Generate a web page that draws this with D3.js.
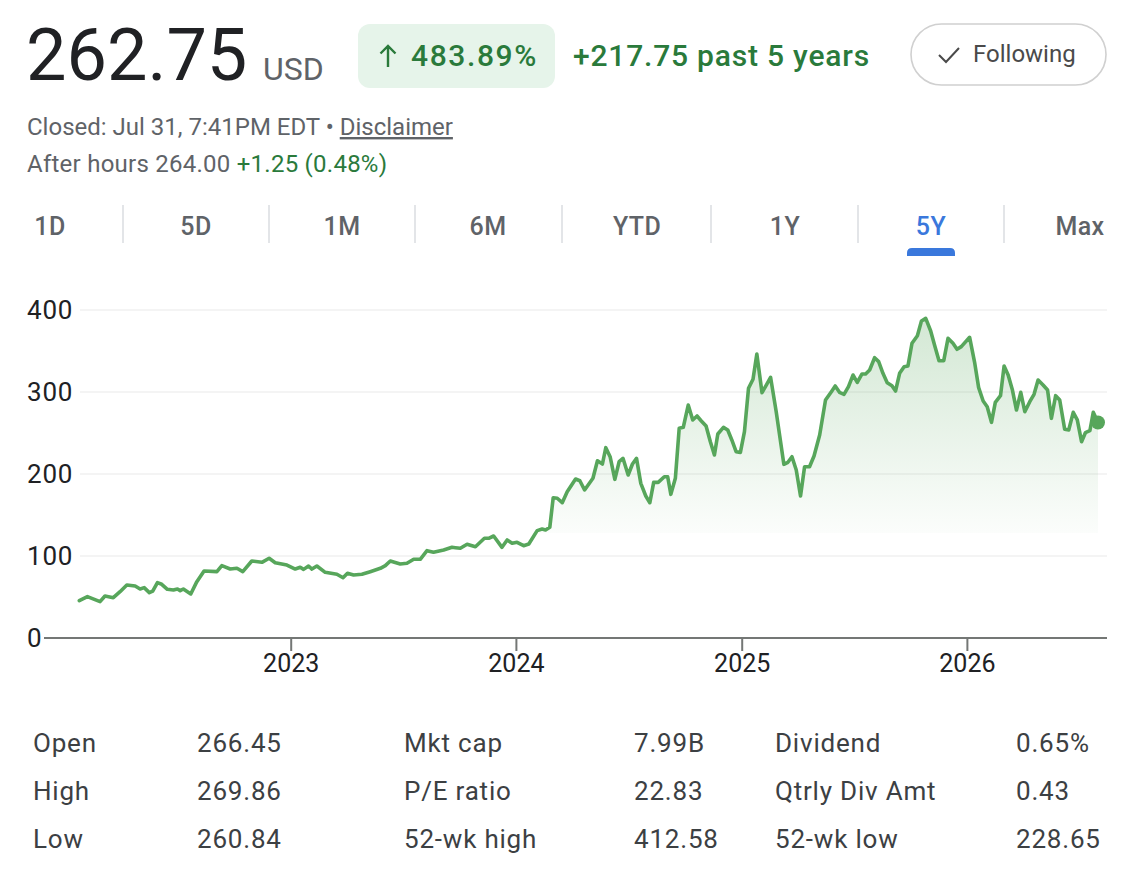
<!DOCTYPE html>
<html>
<head>
<meta charset="utf-8">
<script src="https://cdn.jsdelivr.net/npm/d3@7"></script>
<style>
  html,body{margin:0;padding:0;background:#fff;}
  svg{display:block;font-family:Roboto,"Noto Sans",Arial,sans-serif;}
</style>
</head>
<body>
<svg id="chart" width="1130" height="874"></svg>
<script>
// ---------- data ----------
const years = [
 2022.059,2022.095,2022.151,2022.173,2022.210,2022.240,2022.270,2022.307,2022.329,2022.347,2022.370,2022.385,2022.406,2022.425,2022.450,2022.477,2022.495,2022.507,2022.521,2022.554,2022.581,2022.613,2022.670,2022.692,2022.729,2022.759,2022.785,2022.825,2022.870,2022.902,2022.929,2022.981,
 2023.018,2023.040,2023.055,2023.077,2023.092,2023.114,2023.151,2023.203,2023.230,2023.250,2023.277,2023.314,2023.351,2023.396,2023.418,2023.440,2023.484,2023.514,2023.544,2023.573,2023.603,2023.632,2023.677,2023.714,2023.729,2023.751,2023.781,2023.818,2023.858,2023.877,2023.899,2023.936,2023.959,2023.981,
 2024.003,2024.032,2024.055,2024.092,2024.114,2024.129,2024.148,2024.163,2024.181,2024.203,2024.225,2024.262,2024.281,2024.302,2024.339,2024.359,2024.381,2024.396,2024.415,2024.436,2024.455,2024.472,2024.495,2024.514,2024.532,2024.551,2024.573,2024.591,2024.608,2024.628,2024.655,2024.670,2024.684,2024.704,2024.721,2024.739,2024.761,2024.781,2024.800,2024.818,2024.840,2024.859,2024.877,2024.892,2024.917,2024.936,2024.954,2024.973,2024.992,
 2025.010,2025.028,2025.048,2025.065,2025.088,2025.107,2025.126,2025.151,2025.185,2025.203,2025.221,2025.240,2025.259,2025.277,2025.299,2025.319,2025.344,2025.370,2025.396,2025.413,2025.432,2025.452,2025.472,2025.492,2025.511,2025.532,2025.548,2025.566,2025.588,2025.606,2025.625,2025.644,2025.665,2025.681,2025.699,2025.719,2025.736,2025.754,2025.778,2025.796,2025.815,2025.837,2025.855,2025.874,2025.895,2025.914,2025.936,2025.954,2025.973,
 2026.010,2026.032,2026.050,2026.070,2026.088,2026.107,2026.124,2026.147,2026.163,2026.181,2026.200,2026.218,2026.237,2026.255,2026.277,2026.296,2026.314,2026.336,2026.356,2026.373,2026.392,2026.410,2026.432,2026.450,2026.470,2026.488,2026.507,2026.524,2026.544,2026.559,2026.580
];
const prices = [
 45.5,50.4,44.3,51.2,49.2,56.5,64.6,63.4,59.8,61.4,55.3,57.3,67.5,65.5,59.4,58.5,59.8,57.7,59.8,53.7,68.7,81.7,80.9,88.2,84.1,85.0,80.9,93.9,92.3,97.2,91.8,89.0,
 84.1,86.2,83.7,87.8,84.1,87.8,80.1,77.7,73.5,78.9,76.8,77.7,80.9,85.0,88.2,93.9,90.2,91.1,96.0,96.0,106.5,104.5,107.3,110.6,110.1,109.4,114.3,111.3,121.6,121.6,124.4,110.6,119.5,115.5,
 116.7,112.6,114.6,130.9,132.9,131.7,135.0,171.1,170.4,165.0,178.4,193.9,191.8,180.5,194.8,216.2,212.2,232.1,221.1,193.5,215.0,219.1,198.8,212.2,219.1,188.6,173.2,165.0,189.8,189.8,196.7,196.7,175.2,194.8,255.7,256.9,284.1,265.9,270.7,265.0,258.5,239.4,223.2,248.8,256.9,253.7,241.5,227.2,226.4,
 251.6,304.5,315.5,346.3,299.2,308.5,317.9,276.0,211.8,214.3,221.1,204.9,173.2,208.9,208.9,222.0,247.6,290.2,300.4,307.3,299.6,297.2,306.5,320.7,311.8,322.0,322.0,326.8,341.8,337.0,322.8,311.4,307.7,301.2,322.8,330.9,331.7,359.4,368.7,386.6,389.8,374.4,356.5,338.2,338.2,365.4,359.4,352.1,355.3,
 366.7,336.2,305.3,289.0,282.1,263.0,287.4,295.5,331.7,320.7,302.4,278.0,299.6,276.0,288.2,297.2,314.6,308.5,302.4,267.9,295.5,290.2,254.5,253.7,275.2,265.9,239.4,250.4,252.8,275.2,262.75
];
const yTicks = [0,100,200,300,400];
const xTickYears = [2023,2024,2025,2026];
const tabs = ["1D","5D","1M","6M","YTD","1Y","5Y","Max"];
const activeTab = "5Y";
const statLabels1 = ["Open","High","Low"];
const statValues1 = ["266.45","269.86","260.84"];
const statLabels2 = ["Mkt cap","P/E ratio","52-wk high"];
const statValues2 = ["7.99B","22.83","412.58"];
const statLabels3 = ["Dividend","Qtrly Div Amt","52-wk low"];
const statValues3 = ["0.65%","0.43","228.65"];

// ---------- helpers ----------
function yearToDate(y){
  const Y = Math.floor(y), f = y - Y;
  const a = new Date(Y,0,1), b = new Date(Y+1,0,1);
  return new Date(a.getTime() + f*(b-a));
}
const data = years.map((y,i)=>({date:yearToDate(y), value:prices[i]}));

const GREEN_TXT = "#2a7a3b";
const LINE = "#57a65b";
const GRAY = "#5f6368";
const DARK = "#202124";

const svg = d3.select("#chart");

// ---------- header ----------
svg.append("text").attr("x",26).attr("y",80).attr("font-size",72).attr("fill",DARK).text("262.75");
svg.append("text").attr("x",263).attr("y",80).attr("font-size",32).attr("fill",GRAY).text("USD");

svg.append("rect").attr("x",358).attr("y",24).attr("width",197).attr("height",64).attr("rx",12).attr("fill","#e6f4ea");
svg.append("path").attr("d","M388,67 L388,46 M380.5,53.5 L388,46 L395.5,53.5")
   .attr("stroke",GREEN_TXT).attr("stroke-width",2.4).attr("fill","none");
svg.append("text").attr("x",411).attr("y",66).attr("font-size",30).attr("font-weight",500)
   .attr("letter-spacing",1.6).attr("fill",GREEN_TXT).text("483.89%");
svg.append("text").attr("x",573).attr("y",66).attr("font-size",30).attr("font-weight",500)
   .attr("letter-spacing",0.8).attr("fill",GREEN_TXT).text("+217.75 past 5 years");

svg.append("rect").attr("x",911).attr("y",24).attr("width",195).attr("height",61).attr("rx",30.5)
   .attr("fill","#fff").attr("stroke","#d0d0d0").attr("stroke-width",1.6);
svg.append("path").attr("d","M939,55 L946,62 L959,48").attr("stroke","#4a4a4a").attr("stroke-width",2).attr("fill","none");
svg.append("text").attr("x",973).attr("y",62).attr("font-size",24).attr("fill","#4a4a4a").text("Following");

const l1 = svg.append("text").attr("x",27).attr("y",135).attr("font-size",24).attr("fill",GRAY);
l1.append("tspan").text("Closed: Jul 31, 7:41PM EDT • ");
l1.append("tspan").attr("text-decoration","underline").text("Disclaimer");
const l2 = svg.append("text").attr("x",27).attr("y",172).attr("font-size",24).attr("letter-spacing",0.25).attr("fill",GRAY);
l2.append("tspan").text("After hours 264.00 ");
l2.append("tspan").attr("fill",GREEN_TXT).text("+1.25 (0.48%)");

// ---------- tabs ----------
const tabCenters = [50,196,342,488,637,785,931,1080];
const sepX = [123,269,415,562,711,858,1004];
svg.append("g").selectAll("line").data(sepX).join("line")
  .attr("x1",d=>d).attr("x2",d=>d).attr("y1",205).attr("y2",243)
  .attr("stroke","#dadce0").attr("stroke-width",1.5);
svg.append("g").selectAll("text").data(tabs).join("text")
  .attr("x",(d,i)=>tabCenters[i]).attr("y",235).attr("text-anchor","middle")
  .attr("font-size",25).attr("font-weight",500).attr("letter-spacing",0.4)
  .attr("fill",d=>d===activeTab?"#3a78dc":GRAY).text(d=>d);
const ai = tabs.indexOf(activeTab);
svg.append("path")
  .attr("d",`M${tabCenters[ai]-24},256 L${tabCenters[ai]-24},253 Q${tabCenters[ai]-24},248 ${tabCenters[ai]-19},248 L${tabCenters[ai]+19},248 Q${tabCenters[ai]+24},248 ${tabCenters[ai]+24},253 L${tabCenters[ai]+24},256 Z`)
  .attr("fill","#3a78dc");

// ---------- chart ----------
const x = d3.scaleTime().domain(d3.extent(data,d=>d.date)).range([79.3,1098]);
const y = d3.scaleLinear().domain([0,400]).range([638,310]);
const plotRight = 1107;

// gridlines
svg.append("g").selectAll("line").data(yTicks.filter(t=>t>0)).join("line")
  .attr("x1",80).attr("x2",plotRight).attr("y1",d=>y(d)).attr("y2",d=>y(d))
  .attr("stroke","#f1f1f1").attr("stroke-width",1.5);

// y labels
svg.append("g").selectAll("text").data(yTicks).join("text")
  .attr("x",27).attr("y",d=>y(d)+9).attr("font-size",26).attr("letter-spacing",0.8).attr("fill",DARK).text(d=>d);

// gradient
const defs = svg.append("defs");
const grad = defs.append("linearGradient").attr("id","g1")
  .attr("gradientUnits","userSpaceOnUse").attr("x1",0).attr("x2",0).attr("y1",y(400)).attr("y2",y(0));
const cut = (y(128)-y(400))/(y(0)-y(400));
grad.append("stop").attr("offset",0).attr("stop-color",LINE).attr("stop-opacity",0.27);
grad.append("stop").attr("offset",cut).attr("stop-color",LINE).attr("stop-opacity",0.022);
grad.append("stop").attr("offset",cut+0.001).attr("stop-color",LINE).attr("stop-opacity",0);
grad.append("stop").attr("offset",1).attr("stop-color",LINE).attr("stop-opacity",0);

svg.append("path").datum(data)
  .attr("d",d3.area().x(d=>x(d.date)).y0(y(0)).y1(d=>y(d.value)))
  .attr("fill","url(#g1)");

// axis baseline + ticks
svg.append("line").attr("x1",44).attr("x2",plotRight).attr("y1",y(0)).attr("y2",y(0))
  .attr("stroke","#747775").attr("stroke-width",2);
const xt = xTickYears.map(v=>new Date(v,0,1));
svg.append("g").selectAll("line").data(xt).join("line")
  .attr("x1",d=>x(d)).attr("x2",d=>x(d)).attr("y1",y(0)).attr("y2",y(0)+13)
  .attr("stroke","#747775").attr("stroke-width",2);
svg.append("g").selectAll("text").data(xt).join("text")
  .attr("x",d=>x(d)).attr("y",y(0)+34).attr("text-anchor","middle")
  .attr("font-size",25).attr("fill",DARK).text(d=>d3.timeFormat("%Y")(d));

// line
svg.append("path").datum(data)
  .attr("d",d3.line().x(d=>x(d.date)).y(d=>y(d.value)))
  .attr("fill","none").attr("stroke",LINE).attr("stroke-width",3.6)
  .attr("stroke-linejoin","round").attr("stroke-linecap","round");

const last = data[data.length-1];
svg.append("circle").attr("cx",x(last.date)).attr("cy",y(last.value)).attr("r",7).attr("fill",LINE);

// ---------- stats ----------
const rowY = [752,800,848];
const cols = [
  {x:33, vals:statLabels1},{x:197, vals:statValues1},
  {x:404, vals:statLabels2},{x:634, vals:statValues2},
  {x:775, vals:statLabels3},{x:1016, vals:statValues3}
];
cols.forEach(c=>{
  svg.append("g").selectAll("text").data(c.vals).join("text")
    .attr("x",c.x).attr("y",(d,i)=>rowY[i]).attr("font-size",26).attr("letter-spacing",0.8)
    .attr("fill","#3c4043").text(d=>d);
});
</script>
</body>
</html>
